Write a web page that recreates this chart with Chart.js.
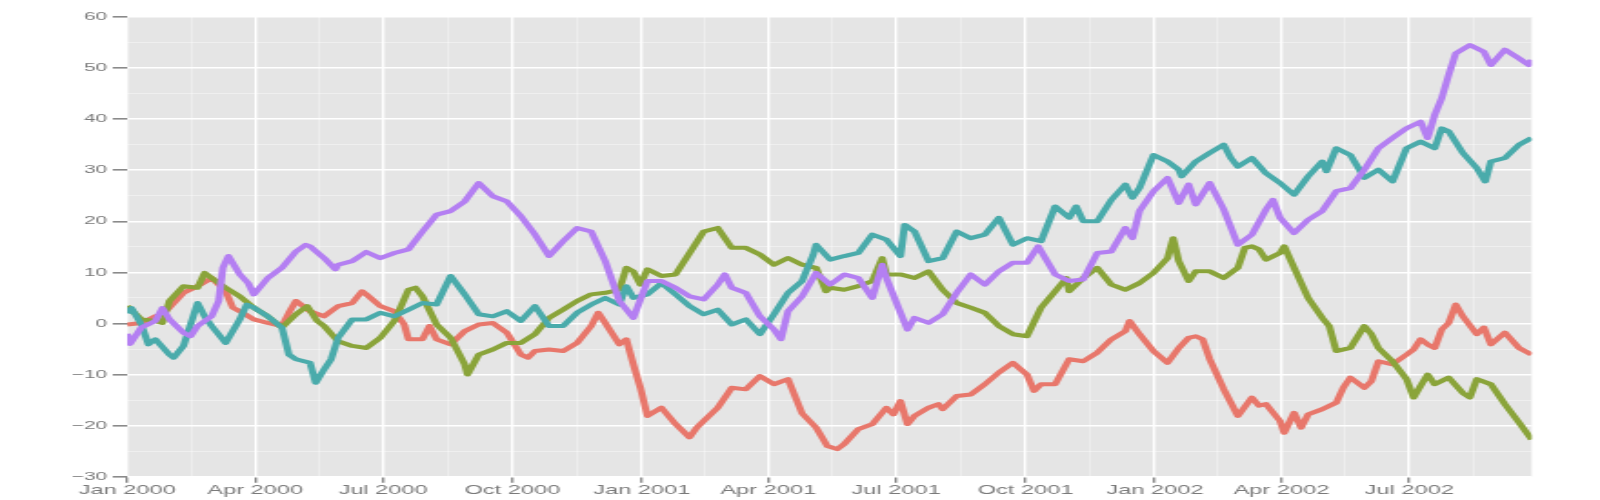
<!DOCTYPE html>
<html>
<head>
<meta charset="utf-8">
<title>Random walks 2000-2002</title>
<script src="https://cdn.jsdelivr.net/npm/chart.js@4.4.1/dist/chart.umd.min.js"></script>
<style>
  html, body { margin: 0; padding: 0; background: #fff; overflow: hidden; }
  /* the reference is a horizontally stretched plot, so draw narrow and stretch */
  #stage { width: 880px; height: 500px; transform: scale(1.81818, 1); transform-origin: 0 0; }
</style>
</head>
<body>
<div id="stage"><canvas id="chart" width="880" height="500"></canvas></div>
<script>
// x values are days counted from 1 Jan 2000 (1000 daily points, last one = day 999)
const quarterDays = [0, 91, 182, 274, 366, 456, 547, 639, 731, 821, 912];
const quarterLabels = ['Jan 2000', 'Apr 2000', 'Jul 2000', 'Oct 2000', 'Jan 2001', 'Apr 2001',
                       'Jul 2001', 'Oct 2001', 'Jan 2002', 'Apr 2002', 'Jul 2002'];
const minorDays = [45.5, 136.5, 228, 320, 411, 501.5, 593, 685, 776, 866.5, 958];
const yTicks = [-30, -25, -20, -15, -10, -5, 0, 5, 10, 15, 20, 25, 30, 35, 40, 45, 50, 55, 60];

// series A (red)
const aDays = [0, 10, 20, 25, 30, 40, 50, 60, 70, 75, 80, 90, 100, 110, 115, 120, 130, 140, 150, 160,
  167, 170, 180, 190, 197, 200, 210, 215, 220, 230, 240, 250, 260, 270, 280, 285, 290, 300, 310, 320,
  330, 335, 340, 350, 355, 360, 365, 370, 380, 390, 400, 405, 410, 420, 430, 440, 450, 460, 470, 480,
  490, 498, 505, 510, 520, 530, 540, 545, 550, 555, 560, 570, 577, 580, 590, 600, 610, 620, 630, 640,
  645, 650, 660, 670, 680, 690, 700, 710, 713, 720, 730, 740, 748, 755, 760, 765, 770, 780, 790, 800,
  805, 810, 820, 823, 830, 835, 840, 850, 860, 865, 870, 880, 885, 890, 900, 910, 915, 920, 925, 930,
  935, 940, 945, 950, 960, 965, 970, 980, 990, 999];
const aValues = [-0.2, 0.1, 1.4, 1.8, 3.1, 6.0, 7.3, 8.9, 6.3, 3.1, 2.4, 0.8, 0.1, -0.5, 2.1, 4.4, 2.4, 1.4, 3.4, 4.0,
  6.3, 5.7, 3.4, 2.4, -0.2, -3.1, -3.1, -0.5, -3.1, -4.1, -1.5, -0.2, 0.1, -1.8, -6.1, -6.7, -5.4, -5.1, -5.4, -3.8,
  -0.5, 2.1, 0.1, -4.1, -3.1, -8.0, -12.6, -18.1, -16.5, -19.7, -22.3, -20.4, -19.1, -16.5, -12.6, -12.9, -10.3, -11.9, -10.9, -17.6,
  -20.4, -24.0, -24.6, -23.6, -20.7, -19.7, -16.5, -17.8, -15.2, -19.7, -18.1, -16.5, -15.8, -16.8, -14.2, -13.9, -11.9, -9.6, -7.7, -10.0,
  -13.2, -11.9, -11.9, -7.0, -7.4, -5.7, -3.1, -1.5, 0.5, -2.1, -5.4, -7.7, -4.8, -2.8, -2.5, -3.1, -7.0, -12.9, -18.1, -14.5,
  -16.1, -15.8, -19.1, -21.4, -17.5, -20.4, -17.8, -16.8, -15.5, -12.6, -10.6, -12.6, -11.3, -7.4, -8.0, -6.1, -5.1, -3.1, -4.1, -4.8,
  -1.2, 0.1, 3.7, 1.4, -2.1, -0.8, -4.1, -1.8, -4.8, -6.1];

// series B (olive green)
const bDays = [0, 10, 20, 25, 30, 40, 50, 55, 60, 70, 80, 90, 100, 110, 120, 128, 135, 140, 150, 160,
  170, 180, 190, 200, 205, 210, 220, 230, 240, 242, 250, 260, 270, 280, 290, 300, 310, 320, 330, 340,
  350, 355, 360, 365, 370, 380, 390, 400, 410, 420, 430, 440, 450, 460, 470, 480, 490, 497, 500, 510,
  520, 530, 537, 540, 550, 560, 570, 580, 590, 600, 610, 620, 630, 640, 650, 660, 668, 670, 680, 690,
  700, 710, 720, 730, 740, 744, 748, 755, 760, 770, 780, 790, 795, 800, 805, 810, 820, 823, 830, 840,
  850, 855, 860, 870, 880, 885, 890, 900, 910, 915, 920, 925, 930, 940, 950, 955, 960, 970, 980, 990, 999];
const bValues = [3.4, 0.8, 0.5, 0.1, 4.4, 7.3, 7.0, 9.9, 8.9, 7.0, 5.3, 3.1, 1.4, -0.8, 1.8, 3.4, 0.5, -0.5, -3.5, -4.4,
  -4.8, -2.8, 0.5, 6.6, 7.0, 5.3, -0.2, -2.8, -8.0, -10.0, -6.1, -5.1, -3.8, -3.8, -2.1, 1.1, 2.7, 4.4, 5.7, 6.0,
  6.6, 10.9, 10.2, 7.6, 10.6, 9.3, 9.6, 13.8, 18.0, 18.7, 14.8, 14.8, 13.5, 11.5, 12.8, 11.5, 10.9, 6.3, 7.0, 6.6,
  7.3, 8.3, 12.8, 9.6, 9.6, 8.9, 10.2, 6.6, 4.0, 3.1, 2.1, -0.5, -2.1, -2.5, 3.1, 6.3, 8.9, 6.3, 8.9, 10.9,
  7.6, 6.6, 7.9, 9.9, 12.8, 16.7, 12.2, 8.3, 10.2, 10.2, 8.9, 10.9, 14.8, 15.1, 14.5, 12.5, 13.8, 15.1, 10.9, 5.0,
  1.1, -0.5, -5.4, -4.8, -0.5, -2.1, -4.8, -7.4, -10.9, -14.5, -12.2, -10.0, -11.9, -10.6, -13.6, -14.5, -10.9, -11.9, -15.8, -19.4, -22.7];

// series C (teal)
const cDays = [0, 3, 10, 15, 20, 30, 33, 40, 45, 50, 55, 60, 70, 80, 85, 90, 100, 110, 115, 120,
  130, 134, 140, 145, 150, 160, 170, 180, 190, 200, 210, 220, 230, 240, 250, 260, 270, 280, 290, 300,
  310, 320, 330, 340, 350, 355, 360, 370, 380, 390, 400, 410, 420, 430, 440, 450, 460, 470, 480, 488,
  490, 500, 510, 520, 530, 540, 550, 553, 560, 570, 580, 590, 600, 610, 620, 630, 640, 650, 660, 670,
  675, 680, 690, 700, 710, 715, 720, 730, 740, 748, 750, 760, 770, 780, 785, 790, 800, 810, 820, 830,
  840, 850, 853, 860, 870, 880, 890, 900, 910, 920, 930, 935, 940, 950, 960, 966, 970, 980, 990, 999];
const cValues = [2.0, 3.0, -0.2, -4.1, -3.1, -6.1, -6.7, -4.4, -0.2, 4.0, 1.4, -0.5, -3.8, 0.8, 3.7, 3.1, 1.4, -0.8, -6.1, -7.0,
  -7.7, -11.6, -9.0, -7.0, -2.8, 0.8, 0.8, 2.1, 1.4, 2.7, 4.0, 3.7, 9.3, 5.7, 1.8, 1.4, 2.4, 0.5, 3.4, -0.5,
  -0.5, 2.1, 3.7, 5.0, 3.7, 7.3, 5.0, 5.7, 7.9, 5.7, 3.4, 1.8, 2.7, -0.2, 0.8, -2.1, 1.8, 6.0, 8.3, 13.5,
  15.4, 12.5, 13.2, 13.8, 17.4, 16.4, 13.2, 19.3, 18.0, 12.2, 12.8, 18.0, 16.7, 17.4, 20.7, 15.4, 16.7, 16.1, 22.9, 20.7,
  22.9, 20.0, 20.0, 24.2, 27.2, 24.6, 26.5, 33.0, 31.7, 30.1, 28.8, 31.7, 33.4, 35.0, 32.4, 30.7, 32.4, 29.4, 27.5, 25.2,
  28.8, 31.7, 29.8, 34.3, 33.0, 28.5, 30.1, 27.8, 34.3, 35.6, 34.3, 38.2, 37.6, 33.4, 30.4, 27.8, 31.7, 32.4, 35.0, 36.3];

// series D (purple)
const dDays = [0, 2, 10, 20, 25, 30, 40, 45, 50, 60, 65, 68, 72, 80, 86, 90, 100, 110, 120, 127,
  130, 140, 148, 150, 160, 170, 180, 190, 200, 210, 220, 230, 240, 250, 260, 270, 280, 290, 300, 310,
  320, 330, 340, 350, 360, 370, 380, 390, 400, 410, 420, 425, 430, 440, 450, 460, 465, 470, 480, 490,
  500, 510, 520, 530, 537, 540, 550, 555, 560, 570, 580, 590, 600, 610, 620, 630, 640, 648, 660, 670,
  680, 690, 700, 710, 715, 720, 730, 740, 748, 755, 760, 770, 780, 790, 800, 810, 815, 820, 830, 840,
  850, 860, 870, 880, 890, 900, 910, 920, 925, 930, 935, 940, 945, 955, 965, 970, 980, 990, 997, 999];
const dValues = [-2.0, -4.0, -0.8, 0.5, 3.0, 0.8, -1.8, -2.5, -0.5, 1.4, 4.4, 10.9, 13.2, 9.6, 7.9, 5.7, 8.9, 10.9, 14.1, 15.4,
  15.1, 12.8, 10.6, 11.5, 12.2, 14.0, 12.8, 13.8, 14.5, 18.0, 21.3, 22.0, 23.9, 27.5, 24.9, 23.9, 21.0, 17.4, 13.2, 16.1,
  18.7, 18.0, 12.2, 4.4, 1.1, 8.3, 8.3, 7.0, 5.3, 4.7, 7.6, 9.6, 7.0, 6.0, 1.4, -1.2, -3.1, 2.4, 5.3, 9.9,
  7.6, 9.6, 8.9, 5.0, 11.5, 8.9, 2.1, -1.2, 1.1, 0.1, 1.8, 6.0, 9.6, 7.6, 10.2, 11.9, 11.9, 15.1, 9.6, 8.3,
  8.6, 13.8, 14.1, 18.7, 16.7, 22.0, 25.9, 28.5, 23.6, 27.2, 23.3, 27.5, 22.3, 15.4, 17.4, 22.3, 24.2, 20.7, 17.7, 20.3,
  22.0, 25.9, 26.5, 30.1, 34.3, 36.3, 38.2, 39.5, 36.3, 40.8, 44.1, 48.7, 52.9, 54.5, 53.2, 50.6, 53.6, 51.9, 50.6, 51.6];

const seriesNames = ['A', 'B', 'C', 'D'];
const seriesDays = [aDays, bDays, cDays, dDays];
const seriesValues = [aValues, bValues, cValues, dValues];
const seriesColors = ['#E8776B', '#8AA43A', '#4AABAB', '#B47FF2'];

const FONT = '"Liberation Sans", Arial, sans-serif';
const LABEL_GREY = '#7a7a7a';

function fmtY(v) {
  if (v % 10 !== 0) return '';
  return v < 0 ? '\u2212' + Math.abs(v) : String(v);
}

// grey panel behind the grid
const panelPlugin = {
  id: 'panel',
  beforeDraw(chart) {
    const { ctx, chartArea: a } = chart;
    ctx.save();
    ctx.fillStyle = '#E5E5E5';
    ctx.fillRect(a.left, a.top, a.right - a.left, a.bottom - a.top);
    ctx.restore();
  }
};

const datasets = seriesNames.map((name, i) => ({
  label: name,
  data: seriesDays[i].map((d, j) => ({ x: d, y: seriesValues[i][j] })),
  borderColor: seriesColors[i],
  backgroundColor: seriesColors[i],
  borderWidth: 4,
  borderJoinStyle: 'round',
  pointRadius: 0,
  tension: 0,
  fill: false,
  order: seriesNames.length - 1 - i
}));

const isMajorX = (v) => quarterDays.includes(v);
const isMajorY = (v) => v % 10 === 0;

new Chart(document.getElementById('chart'), {
  type: 'line',
  data: { datasets },
  options: {
    responsive: false,
    animation: false,
    layout: { padding: { left: 0, right: 37.6, top: 17, bottom: 0 } },
    plugins: {
      legend: { display: false },
      tooltip: { enabled: false }
    },
    scales: {
      x: {
        type: 'linear',
        min: 0,
        max: 999,
        afterBuildTicks: (scale) => {
          scale.ticks = quarterDays.concat(minorDays).sort((a, b) => a - b).map(v => ({ value: v }));
        },
        afterFit: (scale) => { scale.height = 23.3; },
        border: { display: false },
        grid: {
          color: (c) => isMajorX(c.tick.value) ? '#FFFFFF' : 'rgba(255,255,255,0.45)',
          lineWidth: (c) => isMajorX(c.tick.value) ? 1.4 : 0.8,
          tickColor: (c) => isMajorX(c.tick.value) ? '#8a8a8a' : 'rgba(0,0,0,0)',
          tickLength: 6,
          drawTicks: true
        },
        ticks: {
          autoSkip: false,
          maxRotation: 0,
          padding: 0,
          color: LABEL_GREY,
          font: { family: FONT, size: 13 },
          callback: (v) => {
            const k = quarterDays.indexOf(v);
            return k >= 0 ? quarterLabels[k] : '';
          }
        }
      },
      y: {
        type: 'linear',
        min: -30,
        max: 60,
        afterBuildTicks: (scale) => {
          scale.ticks = yTicks.map(v => ({ value: v }));
        },
        afterFit: (scale) => { scale.width = 70; },
        border: { display: false },
        grid: {
          color: (c) => isMajorY(c.tick.value) ? '#FFFFFF' : 'rgba(255,255,255,0.45)',
          lineWidth: (c) => isMajorY(c.tick.value) ? 1.6 : 0.9,
          tickColor: (c) => isMajorY(c.tick.value) ? '#8a8a8a' : 'rgba(0,0,0,0)',
          tickLength: 8,
          drawTicks: true
        },
        ticks: {
          autoSkip: false,
          padding: 3,
          color: LABEL_GREY,
          font: { family: FONT, size: 11.5 },
          callback: (v) => fmtY(v)
        }
      }
    }
  },
  plugins: [panelPlugin]
});
</script>
</body>
</html>
